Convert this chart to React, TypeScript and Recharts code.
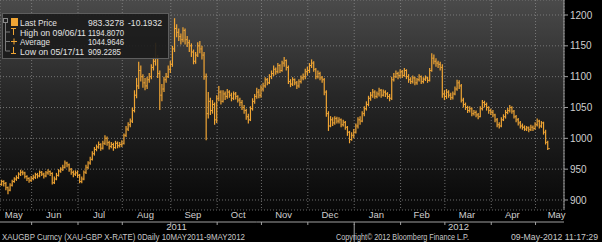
import React from "react";
import { ComposedChart, Bar, Scatter, XAxis, YAxis, CartesianGrid } from "recharts";

// ---- axis labels / positions (day index on x) ----
const monthNames = ["May", "Jun", "Jul", "Aug", "Sep", "Oct", "Nov", "Dec", "Jan", "Feb", "Mar", "Apr", "May"];
const monthLabelPos = [7.5, 26.5, 48, 70, 92.5, 114, 135.5, 157.5, 179.5, 201, 222.5, 244, 265];
const monthStarts = [16, 38, 59, 82, 104, 125, 147, 169, 191, 212, 234, 255];
const yearNames = ["2011", "2012"];
const yearLabelPos = [84.7, 218.5];
const yearBreak = 169;
const priceTicks = [900, 950, 1000, 1050, 1100, 1150, 1200];
const minorTicks = [925, 975, 1025, 1075, 1125, 1175];

// ---- daily closes, 10 May 2011 - 9 May 2012 ----
const closes = [
  928, 925, 930, 927, 920, 916, 924, 930, 934, 936, 942, 945, 944, 938, 935, 932,
  935, 937, 941, 939, 945, 942, 939, 944, 946, 943, 928, 934, 940, 947, 950, 953, 960, 957, 950, 945, 942, 944,
  940, 930, 934, 945, 953, 960, 966, 975, 982, 986, 990, 984, 992, 1000, 993, 987, 990, 985, 992, 988, 990,
  992, 1005, 1015, 1022, 1028, 1045, 1070, 1085, 1110, 1100, 1090, 1085, 1095, 1100, 1115, 1125, 1130, 1105, 1070, 1080, 1095, 1100, 1112,
  1120, 1145, 1178, 1172, 1165, 1160, 1175, 1160, 1155, 1150, 1140, 1125, 1135, 1150, 1145, 1135, 1100, 1040, 1060, 1045, 1055, 1030,
  1065, 1075, 1060, 1072, 1068, 1075, 1070, 1065, 1072, 1068, 1062, 1058, 1050, 1045, 1035, 1030, 1048, 1060, 1068, 1075, 1070,
  1080, 1085, 1095, 1090, 1100, 1105, 1112, 1108, 1118, 1110, 1122, 1126, 1115, 1092, 1088, 1095, 1090, 1085, 1092, 1098, 1100, 1108,
  1110, 1118, 1122, 1112, 1100, 1105, 1098, 1095, 1075, 1040, 1020, 1030, 1025, 1032, 1028, 1030, 1022, 1026, 1018, 1010, 998, 1005,
  1010, 1020, 1030, 1028, 1040, 1048, 1055, 1065, 1070, 1075, 1068, 1072, 1078, 1070, 1075, 1072, 1068, 1065, 1095, 1100, 1105, 1102,
  1108, 1102, 1110, 1100, 1095, 1092, 1098, 1090, 1095, 1100, 1092, 1096, 1098, 1094, 1110, 1130, 1125, 1122, 1120, 1115, 1072,
  1068, 1075, 1070, 1066, 1072, 1080, 1090, 1085, 1062, 1055, 1050, 1045, 1048, 1040, 1042, 1038, 1035, 1048, 1058, 1055, 1050, 1045,
  1042, 1038, 1030, 1022, 1020, 1030, 1035, 1042, 1045, 1050, 1044, 1035, 1030, 1025, 1020, 1018, 1015, 1017, 1014, 1018, 1016,
  1022, 1028, 1020, 1025, 1010, 993.5, 983.3278,
];
const highs = [
  934, 931, 933, 932, 929, 922, 927, 933, 937, 940, 945, 949, 948, 946, 940, 937,
  939, 941, 944, 944, 948, 947, 944, 947, 950, 948, 945, 938, 944, 950, 953, 957, 964, 962, 959, 952, 948, 948,
  948, 942, 938, 948, 957, 963, 970, 979, 986, 990, 995, 992, 996, 1005, 1003, 996, 994, 993, 996, 995, 994,
  997, 1008, 1020, 1026, 1032, 1050, 1078, 1098, 1124, 1118, 1104, 1098, 1100, 1106, 1120, 1132, 1155, 1135, 1110, 1088, 1100, 1106, 1118,
  1126, 1150, 1194.807, 1185, 1178, 1170, 1180, 1178, 1166, 1160, 1154, 1144, 1140, 1156, 1158, 1150, 1140, 1105, 1075, 1066, 1062, 1058,
  1070, 1085, 1078, 1078, 1076, 1080, 1078, 1074, 1076, 1075, 1070, 1066, 1062, 1054, 1048, 1040, 1052, 1065, 1072, 1082, 1080,
  1086, 1090, 1099, 1098, 1104, 1110, 1118, 1115, 1122, 1120, 1126, 1132, 1128, 1118, 1096, 1099, 1097, 1093, 1096, 1102, 1105, 1113,
  1116, 1122, 1128, 1125, 1114, 1110, 1108, 1101, 1098, 1078, 1044, 1036, 1034, 1036, 1035, 1034, 1032, 1030, 1028, 1020, 1012, 1010,
  1015, 1024, 1034, 1036, 1044, 1052, 1060, 1069, 1075, 1080, 1078, 1076, 1082, 1080, 1079, 1078, 1075, 1072, 1100, 1106, 1110, 1108,
  1112, 1111, 1114, 1112, 1104, 1099, 1102, 1100, 1098, 1104, 1102, 1099, 1102, 1100, 1114, 1138, 1136, 1130, 1126, 1124, 1120,
  1078, 1080, 1078, 1074, 1076, 1084, 1095, 1094, 1088, 1066, 1058, 1053, 1052, 1050, 1046, 1045, 1041, 1052, 1062, 1061, 1058, 1052,
  1048, 1046, 1040, 1033, 1026, 1034, 1039, 1046, 1049, 1054, 1052, 1046, 1038, 1033, 1028, 1024, 1021, 1020, 1019, 1022, 1021,
  1026, 1032, 1030, 1028, 1027, 1014, 996,
];
const lows = [
  924, 921, 923, 922, 916, 909.2285, 914, 922, 928, 931, 934, 939, 940, 935, 931, 928,
  929, 932, 934, 935, 937, 939, 935, 937, 941, 939, 925, 926, 932, 938, 944, 947, 951, 953, 946, 941, 937, 939,
  936, 927, 927, 932, 942, 950, 957, 964, 972, 979, 983, 980, 982, 989, 988, 982, 984, 980, 983, 984, 985,
  986, 990, 1002, 1012, 1018, 1025, 1042, 1065, 1080, 1092, 1082, 1078, 1080, 1090, 1096, 1110, 1118, 1098, 1046, 1060, 1075, 1090, 1098,
  1106, 1116, 1140, 1164, 1158, 1152, 1156, 1152, 1148, 1140, 1132, 1120, 1121, 1132, 1138, 1128, 1095, 997, 1032, 1038, 1040, 1022,
  1025, 1060, 1055, 1058, 1062, 1064, 1066, 1060, 1062, 1063, 1058, 1052, 1046, 1040, 1030, 1024, 1028, 1045, 1056, 1064, 1065,
  1066, 1076, 1082, 1086, 1088, 1096, 1101, 1103, 1105, 1106, 1108, 1116, 1110, 1088, 1083, 1085, 1086, 1080, 1082, 1089, 1094, 1096,
  1102, 1106, 1114, 1108, 1096, 1097, 1094, 1090, 1070, 1035, 1012, 1018, 1020, 1022, 1024, 1024, 1018, 1019, 1014, 1004, 992, 996,
  1000, 1008, 1016, 1022, 1026, 1036, 1045, 1052, 1061, 1066, 1064, 1065, 1068, 1066, 1068, 1067, 1064, 1060, 1062, 1092, 1098, 1096,
  1098, 1098, 1100, 1096, 1090, 1088, 1089, 1086, 1087, 1092, 1088, 1089, 1093, 1090, 1092, 1108, 1120, 1116, 1114, 1110, 1066,
  1062, 1064, 1066, 1062, 1063, 1070, 1077, 1080, 1058, 1050, 1046, 1041, 1042, 1036, 1037, 1034, 1031, 1034, 1045, 1050, 1045, 1040,
  1038, 1034, 1026, 1018, 1016, 1018, 1028, 1032, 1039, 1042, 1040, 1032, 1026, 1021, 1016, 1014, 1012, 1012, 1010, 1012, 1012,
  1014, 1019, 1016, 1017, 1006, 990, 981,
];

// ---- legend / footer texts ----
const legendLabels = ["Last Price", "High on 09/06/11", "Average", "Low on 05/17/11"];
const legendValues = ["983.3278", "1194.8070", "1044.9646", "909.2285"];
const lastChange = "-10.1932";
const lastPrice = 983.3278;
const footerLeft = "XAUGBP Curncy (XAU-GBP X-RATE) 0Daily 10MAY2011-9MAY2012";
const footerMid = "Copyright\u00A9 2012 Bloomberg Finance L.P.";
const footerRight = "09-May-2012 11:17:29";

const data = closes.map((c, i) => ({ i, range: [lows[i], highs[i]], close: c }));

const FONT = "'Liberation Sans',Arial,sans-serif";
const ORANGE = "#f0a534";
const AXIS = "#a0a0a0";
const TXT = "#cfcfcf";

const labelWidths = [37, 66, 30, 64];
const valueWidths = [36, 36, 36, 33];

const CloseTick = (props: any) => {
  const { cx, cy } = props;
  if (cx == null || cy == null) return <g />;
  return <rect x={cx} y={cy - 0.5} width={1.6} height={1} fill={ORANGE} />;
};

const MonthStartTick = (props: any) => {
  const { x, y, payload } = props;
  if (payload && payload.value === yearBreak) {
    return <line x1={x} x2={x} y1={y - 3} y2={y + 19} stroke={AXIS} strokeWidth={1} />;
  }
  return <g />;
};

const LastPriceTick = (props: any) => {
  const { x, y, payload } = props;
  return (
    <g>
      <path d={`M${x + 1},${y} L${x + 5},${y - 6} L${x + 38},${y - 6} L${x + 38},${y + 6} L${x + 5},${y + 6} Z`} fill={ORANGE} />
      <text x={x + 5.5} y={y} dy="0.35em" fontSize={8.5} fontFamily={FONT} fill="#2a1a00" textLength={31} lengthAdjust="spacingAndGlyphs">
        {Number(payload.value).toFixed(4)}
      </text>
    </g>
  );
};

export default function App() {
  return (
    <div style={{ position: "relative", width: 602, height: 242, background: "#000", overflow: "hidden" }}>
      <style>{"body{margin:0;background:#000}"}</style>
      <div style={{ position: "absolute", left: 0, top: 0 }}>
        <ComposedChart width={602} height={242} data={data} margin={{ top: 0, right: 0, bottom: 9, left: 0 }}>
          <defs>
            <linearGradient id="plotBgGrad" x1="0" y1="0" x2="0" y2="1">
              <stop offset="0%" stopColor="#4a4a4a" />
              <stop offset="45%" stopColor="#272727" />
              <stop offset="100%" stopColor="#080808" />
            </linearGradient>
          </defs>
          <CartesianGrid
            xAxisId="m"
            yAxisId="p"
            fill="url(#plotBgGrad)"
            fillOpacity={1}
            stroke="#8c8c8c"
            strokeDasharray="1 2"
            strokeOpacity={0.75}
          />
          <XAxis
            xAxisId="m"
            dataKey="i"
            type="number"
            domain={[1, 268.5]}
            allowDataOverflow
            ticks={monthStarts}
            interval={0}
            height={1}
            tickSize={3}
            tickLine={{ stroke: AXIS }}
            axisLine={{ stroke: AXIS }}
            tick={MonthStartTick}
          />
          <XAxis
            xAxisId="l"
            dataKey="i"
            type="number"
            domain={[1, 268.5]}
            allowDataOverflow
            ticks={monthLabelPos}
            interval={0}
            height={12}
            tickSize={0}
            tickMargin={1}
            axisLine={false}
            tickLine={false}
            tickFormatter={(v: number) => monthNames[monthLabelPos.indexOf(v)]}
            tick={{ fill: TXT, fontSize: 9.5, fontFamily: FONT }}
          />
          <XAxis
            xAxisId="y"
            dataKey="i"
            type="number"
            domain={[1, 268.5]}
            allowDataOverflow
            ticks={yearLabelPos}
            interval={0}
            height={10}
            tickSize={0}
            tickMargin={0}
            axisLine={false}
            tickLine={false}
            tickFormatter={(v: number) => yearNames[yearLabelPos.indexOf(v)]}
            tick={{ fill: TXT, fontSize: 9.5, fontFamily: FONT }}
          />
          <YAxis
            yAxisId="mn"
            orientation="right"
            type="number"
            domain={[883.78, 1224.32]}
            allowDataOverflow
            ticks={minorTicks}
            interval={0}
            width={0}
            tickSize={2}
            tickLine={{ stroke: AXIS }}
            axisLine={false}
            tick={false}
          />
          <YAxis
            yAxisId="p"
            orientation="right"
            type="number"
            domain={[883.78, 1224.32]}
            allowDataOverflow
            ticks={priceTicks}
            interval={0}
            width={38}
            tickSize={4}
            tickMargin={2}
            tickLine={{ stroke: AXIS }}
            axisLine={{ stroke: AXIS }}
            tick={{ fill: TXT, fontSize: 10, fontFamily: FONT }}
          />
          <YAxis
            yAxisId="lp"
            orientation="right"
            type="number"
            domain={[883.78, 1224.32]}
            allowDataOverflow
            ticks={[lastPrice]}
            interval={0}
            width={0}
            tickSize={0}
            tickMargin={0}
            tickLine={false}
            axisLine={false}
            tick={LastPriceTick}
          />
          <Bar xAxisId="m" yAxisId="p" dataKey="range" barSize={1.2} fill={ORANGE} isAnimationActive={false} />
          <Scatter xAxisId="m" yAxisId="p" dataKey="close" shape={CloseTick} isAnimationActive={false} />
        </ComposedChart>
      </div>
      <svg width={602} height={242} style={{ position: "absolute", left: 0, top: 0, pointerEvents: "none" }}>
        <rect x={2.5} y={13.5} width={166} height={45} fill="#1b1b1b" fillOpacity={0.92} stroke="#5e5e5e" />
        <rect x={3.5} y={18.5} width={4} height={4} fill="none" stroke="#8a8a8a" />
        <line x1={5.5} x2={5.5} y1={23} y2={51} stroke="#7a7a7a" />
        <line x1={5.5} x2={10} y1={32} y2={32} stroke="#7a7a7a" />
        <line x1={5.5} x2={10} y1={41.5} y2={41.5} stroke="#7a7a7a" />
        <line x1={5.5} x2={10} y1={51} y2={51} stroke="#7a7a7a" />
        <rect x={11} y={18} width={7} height={8} fill={ORANGE} />
        <line x1={11} x2={16} y1={28.5} y2={28.5} stroke={ORANGE} />
        <line x1={13.5} x2={13.5} y1={28.5} y2={35} stroke={ORANGE} />
        <line x1={11} x2={17} y1={41.5} y2={41.5} stroke={ORANGE} />
        <line x1={14} x2={14} y1={38.5} y2={44.5} stroke={ORANGE} />
        <line x1={13.5} x2={13.5} y1={47} y2={53.5} stroke={ORANGE} />
        <line x1={11} x2={16} y1={53.5} y2={53.5} stroke={ORANGE} />
        <g fontFamily={FONT} fontSize={9.5} fill="#e2e2e2">
          {legendLabels.map((t, k) => (
            <text key={"l" + k} x={20} y={26 + k * 9.6} textLength={labelWidths[k]} lengthAdjust="spacingAndGlyphs">{t}</text>
          ))}
          {legendValues.map((t, k) => (
            <text key={"v" + k} x={88} y={26 + k * 9.6} textLength={valueWidths[k]} lengthAdjust="spacingAndGlyphs">{t}</text>
          ))}
          <text x={128} y={26} textLength={34} lengthAdjust="spacingAndGlyphs">{lastChange}</text>
        </g>
        <g fontFamily={FONT} fontSize={8.5} fill="#c8c8c8">
          <text x={2} y={240} textLength={243} lengthAdjust="spacingAndGlyphs">{footerLeft}</text>
          <text x={336} y={240} textLength={133} lengthAdjust="spacingAndGlyphs">{footerMid}</text>
          <text x={511} y={240} textLength={87} lengthAdjust="spacingAndGlyphs">{footerRight}</text>
        </g>
      </svg>
    </div>
  );
}
